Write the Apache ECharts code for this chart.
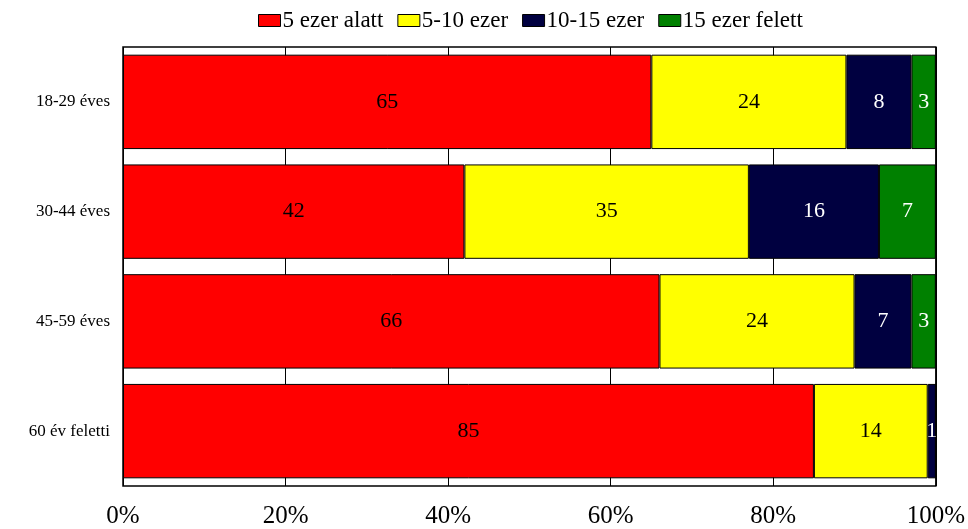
<!DOCTYPE html>
<html>
<head>
<meta charset="utf-8">
<script src="https://cdn.jsdelivr.net/npm/echarts@6/dist/echarts.min.js"></script>
<style>
html,body{margin:0;padding:0;background:#fff}
#chart{width:968px;height:529px}
</style>
</head>
<body>
<div id="chart"></div>
<script>
const categories = ['18-29 éves', '30-44 éves', '45-59 éves', '60 év feletti']
const seriesNames = ['5 ezer alatt', '5-10 ezer', '10-15 ezer', '15 ezer felett']
const under5 = [65, 42, 66, 85]
const from5to10 = [24, 35, 24, 14]
const from10to15 = [8, 16, 7, 1]
const over15 = [3, 7, 3, 0]
const xTicks = [0, 20, 40, 60, 80, 100]

const colors = ['#ff0000', '#ffff00', '#000040', '#008000']
const labelColors = ['#000', '#000', '#fff', '#fff']
const values = [under5, from5to10, from10to15, over15]
const font = '"Liberation Serif", "Times New Roman", serif'

const chart = echarts.init(document.getElementById('chart'))
const option = {
    animation: false,
    textStyle: { fontFamily: font },
    legend: {
        top: 4,
        left: 253,
        icon: 'rect',
        itemWidth: 22,
        itemHeight: 12,
        itemGap: 14,
        itemStyle: { borderColor: '#000', borderWidth: 1 },
        textStyle: { fontFamily: font, fontSize: 23, color: '#000', padding: [0, 0, 0, -3] },
        data: seriesNames
    },
    grid: {
        left: 123, right: 32, top: 47, bottom: 40,
        show: true, borderColor: '#000', borderWidth: 1.5
    },
    xAxis: {
        type: 'value',
        min: 0, max: 100, interval: 20,
        axisLine: { show: false },
        axisTick: { show: false },
        splitLine: { show: true, lineStyle: { color: '#000', width: 1 } },
        axisLabel: {
            fontFamily: font, fontSize: 25, color: '#000', margin: 18,
            formatter: v => xTicks.includes(v) ? v + '%' : ''
        }
    },
    yAxis: {
        type: 'category',
        inverse: true,
        data: categories,
        axisLine: { show: false },
        axisTick: { show: false },
        axisLabel: { fontFamily: font, fontSize: 17, color: '#000', margin: 13 }
    },
    series: seriesNames.map((name, i) => ({
        name: name,
        type: 'bar',
        stack: 'total',
        barCategoryGap: '14%',
        data: values[i],
        itemStyle: { color: colors[i], borderColor: '#000', borderWidth: 1 },
        label: {
            show: true,
            position: 'inside',
            fontFamily: font,
            fontSize: 22,
            color: labelColors[i],
            formatter: p => p.value > 0 ? String(p.value) : ''
        }
    }))
}
chart.setOption(option)
</script>
</body>
</html>
